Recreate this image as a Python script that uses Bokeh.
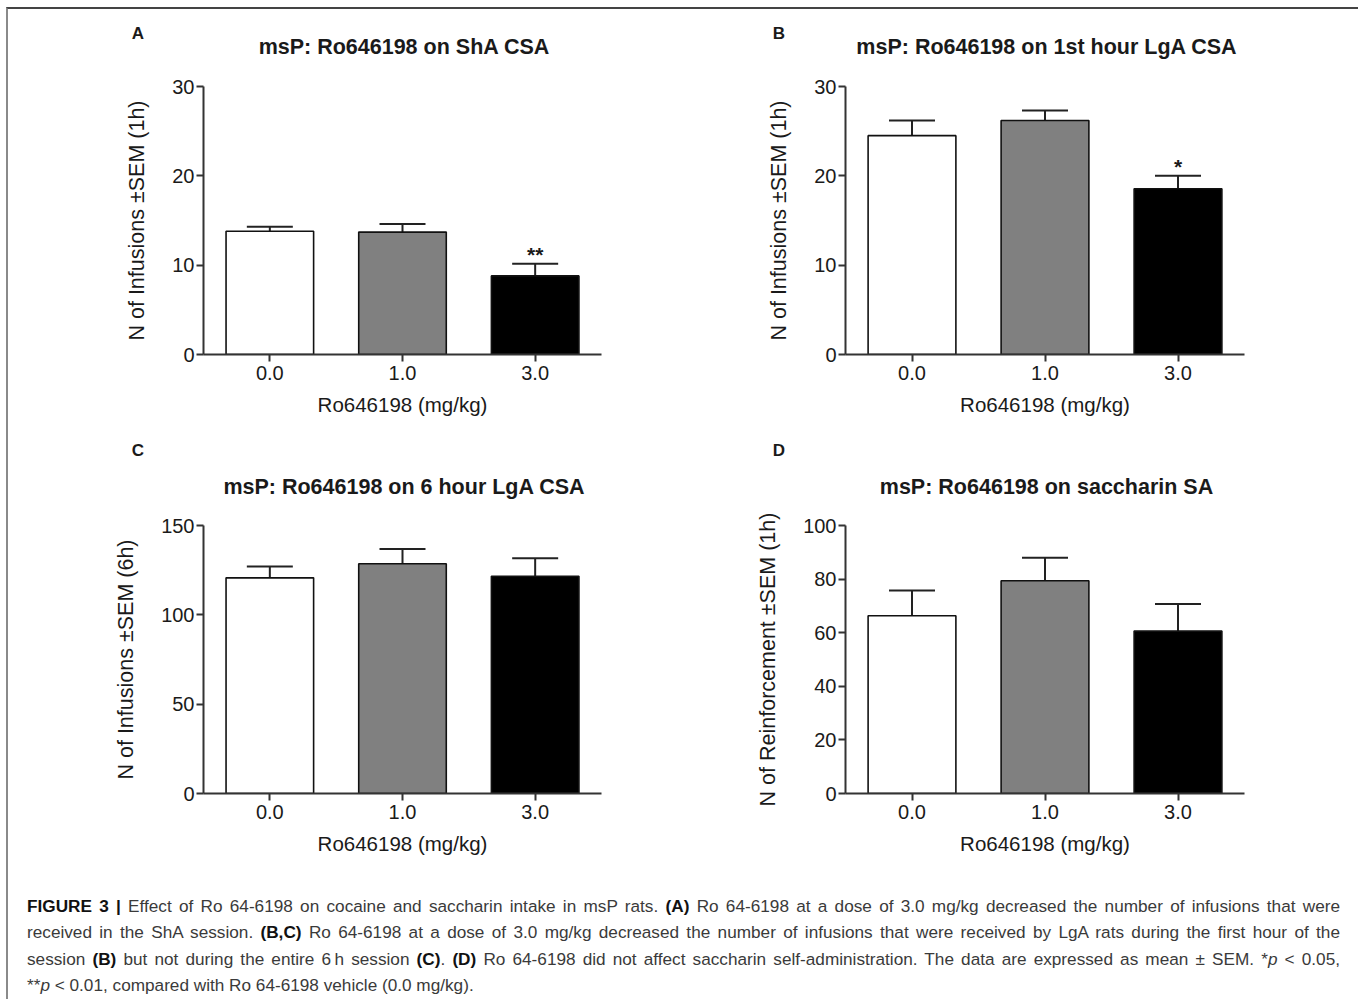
from bokeh.plotting import figure
from bokeh.layouts import column, row
from bokeh.models import (ColumnDataSource, FactorRange, Range1d, FixedTicker,
                          Whisker, TeeHead, Div)
from bokeh.core.properties import value
from bokeh.embed import file_html
from bokeh.resources import INLINE

# ---------------- data ----------------
doses = ["0.0", "1.0", "3.0"]
bar_colors = ["#ffffff", "#808080", "#000000"]

a_mean = [13.8, 13.7, 8.8]
a_sem = [0.5, 0.9, 1.35]
a_sig = ["", "", "**"]

b_mean = [24.5, 26.2, 18.55]
b_sem = [1.7, 1.1, 1.45]
b_sig = ["", "", "*"]

c_mean = [120.7, 128.6, 121.6]
c_sem = [6.4, 8.3, 10.1]
c_sig = ["", "", ""]

d_mean = [66.3, 79.4, 60.6]
d_sem = [9.4, 8.6, 10.1]
d_sig = ["", "", ""]

a_ticks = [0, 10, 20, 30]
b_ticks = [0, 10, 20, 30]
c_ticks = [0, 50, 100, 150]
d_ticks = [0, 20, 40, 60, 80, 100]

titles = ["msP: Ro646198 on ShA CSA",
          "msP: Ro646198 on 1st hour LgA CSA",
          "msP: Ro646198 on 6 hour LgA CSA",
          "msP: Ro646198 on saccharin SA"]
ylabels = ["N of Infusions \u00b1SEM (1h)",
           "N of Infusions \u00b1SEM (1h)",
           "N of Infusions \u00b1SEM (6h)",
           "N of Reinforcement \u00b1SEM (1h)"]
xlabel = "Ro646198 (mg/kg)"
letters = ["A", "B", "C", "D"]

FONT = "Liberation Sans"
INK = "#1a1a1a"
AX = "#333333"


def header(letter, title, bl, br, fw, height, letter_dx, letter_y, title_y):
    """Panel letter and panel title, above the chart (HTML text)."""
    width = bl + fw + br
    lx = bl + letter_dx
    tx = bl + fw / 2 + 2
    base = ("position:absolute;text-align:center;white-space:nowrap;"
            f"font-family:'{FONT}',Arial,sans-serif;font-weight:bold;color:{INK};")
    html = (
        f'<div style="position:relative;width:{width}px;height:{height}px;">'
        f'<span style="{base}left:{lx - 20}px;width:40px;top:{letter_y - 12}px;'
        f'height:24px;line-height:24px;font-size:17px;">{letter}</span>'
        f'<span style="{base}left:{tx - 300}px;width:600px;top:{title_y - 15}px;'
        f'height:30px;line-height:30px;font-size:21.5px;">{title}</span>'
        '</div>')
    return Div(text=html, width=width, height=height,
               styles={"margin": "0", "padding": "0"})


def panel(ylabel, means, sems, sig, ticks, bl, br, bt, bb, fw, fh):
    ymax = ticks[-1]
    p = figure(x_range=FactorRange(*doses), y_range=Range1d(0, ymax),
               frame_width=fw, frame_height=fh,
               min_border_left=bl, min_border_right=br,
               min_border_top=bt, min_border_bottom=bb,
               output_backend="svg", toolbar_location=None)

    upper = [m + s for m, s in zip(means, sems)]
    src = ColumnDataSource(dict(x=doses, top=means, upper=upper,
                                color=bar_colors, sig=sig))
    p.vbar(x="x", top="top", width=0.66, source=src, fill_color="color",
           line_color="#111111", line_width=1.6)
    w = Whisker(base="x", lower="top", upper="upper", source=src,
                dimension="height", line_color="#222222", line_width=2,
                upper_head=TeeHead(size=46, line_color="#222222", line_width=2),
                lower_head=None)
    p.add_layout(w)
    p.text(x="x", y="upper", text="sig", source=src, text_align="center",
           text_baseline="middle", y_offset=-9, text_font=value(FONT),
           text_font_size="21px", text_font_style="bold", text_color=INK)

    p.xgrid.visible = False
    p.ygrid.visible = False
    p.outline_line_color = None

    p.yaxis.ticker = FixedTicker(ticks=ticks)
    for ax in (p.xaxis[0], p.yaxis[0]):
        ax.axis_line_width = 2
        ax.axis_line_color = AX
        ax.major_tick_line_width = 2
        ax.major_tick_line_color = AX
        ax.major_tick_out = 7
        ax.major_tick_in = 0
        ax.minor_tick_line_color = None
        ax.major_label_text_font = FONT
        ax.major_label_text_font_size = "20px"
        ax.major_label_text_color = INK
        ax.axis_label_text_font = FONT
        ax.axis_label_text_font_style = "normal"
        ax.axis_label_text_color = INK
    p.yaxis.axis_label = ylabel
    p.yaxis.axis_label_text_font_size = "21.5px"
    p.yaxis.major_label_standoff = 2
    p.yaxis.axis_label_standoff = 20
    p.xaxis.axis_label = xlabel
    p.xaxis.axis_label_text_font_size = "20.5px"
    p.xaxis.major_label_standoff = 4
    p.xaxis.axis_label_standoff = 10
    return p


FW, FH = 398, 268
# left column / right column borders
LB, LR = 195, 50
RB, RR = 194, 110

hA = header(letters[0], titles[0], LB, LR, FW, 60, -65, 25, 38)
pA = panel(ylabels[0], a_mean, a_sem, a_sig, a_ticks, LB, LR, 17, 80, FW, FH)
hB = header(letters[1], titles[1], RB, RR, FW + 1, 60, -66, 25, 38)
pB = panel(ylabels[1], b_mean, b_sem, b_sig, b_ticks, RB, RR, 17, 80, FW + 1, FH)
hC = header(letters[2], titles[2], LB, LR, FW, 71, -65, 17, 53)
pC = panel(ylabels[2], c_mean, c_sem, c_sig, c_ticks, LB, LR, 20, 76, FW, FH)
hD = header(letters[3], titles[3], RB, RR, FW + 1, 71, -66, 17, 53)
pD = panel(ylabels[3], d_mean, d_sem, d_sig, d_ticks, RB, RR, 20, 76, FW + 1, FH)

B = 'style="color:#111"'
LINE = 'style="text-align:justify;text-align-last:justify;"'
caption_html = (
    '<div style="font-family:\'Liberation Sans\',Arial,sans-serif;font-size:17.2px;'
    'line-height:26.3px;color:#3a3a3a;'
    'padding:19px 19px 0 14px;box-sizing:border-box;width:1346px;">'
    f'<div {LINE}><b {B}>FIGURE 3 |</b> Effect of Ro 64-6198 on cocaine and saccharin '
    f'intake in msP rats. <b {B}>(A)</b> Ro 64-6198 at a dose of 3.0 mg/kg '
    'decreased the number of infusions that were</div>'
    f'<div {LINE}>received in the ShA session. <b {B}>(B,C)</b> Ro 64-6198 at a dose of '
    '3.0 mg/kg decreased the number of infusions that were received by LgA rats '
    'during the first hour of the</div>'
    f'<div {LINE}>session <b {B}>(B)</b> but not during the entire 6&#8201;h session '
    f'<b {B}>(C)</b>. <b {B}>(D)</b> Ro 64-6198 did not affect saccharin '
    'self-administration. The data are expressed as mean &plusmn; SEM. '
    '*<i>p</i> &lt; 0.05,</div>'
    '<div>**<i>p</i> &lt; 0.01, compared with Ro 64-6198 vehicle (0.0 mg/kg).</div>'
    '</div>')
cap = Div(text=caption_html, width=1346, height=130)

layout = column(row(column(hA, pA), column(hB, pB)),
                row(column(hC, pC), column(hD, pD)),
                cap,
                styles={"margin-left": "6px", "margin-top": "7px",
                        "border-top": "2px solid #444444",
                        "border-left": "2px solid #8a8a8a",
                        "border-right": "2px solid #8a8a8a"})

open("out.html", "w").write(file_html(layout, INLINE))
